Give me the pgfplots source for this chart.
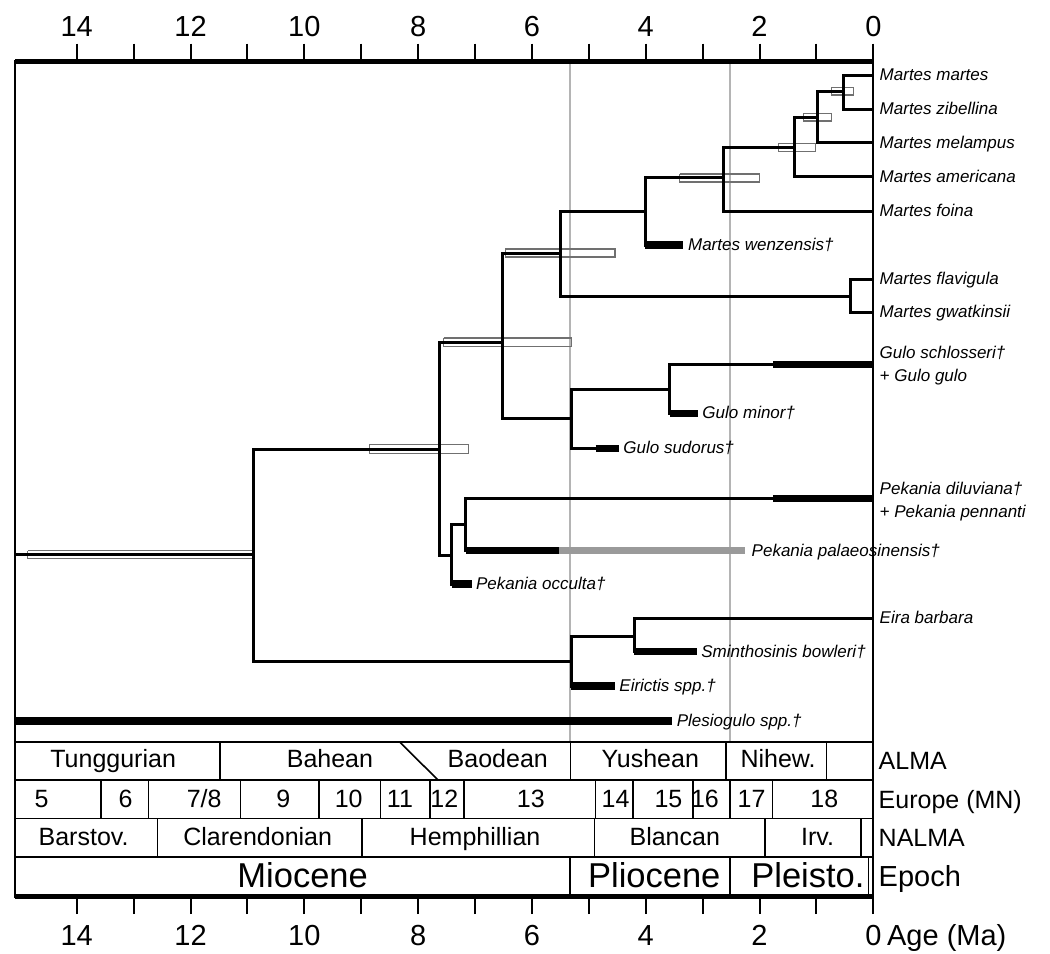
\documentclass[border=0pt]{standalone}
\usepackage{fontspec}
\setmainfont{Liberation Sans}
\usepackage{pgfplots}
\pgfplotsset{compat=1.18}
\definecolor{vgray}{HTML}{B4B4B4}
\definecolor{pgray}{HTML}{9A9A9A}
\definecolor{cigray}{HTML}{707070}

\begin{document}
\begin{tikzpicture}[
  tree/.style={black, line width=1.5pt, line join=miter, mark=none},
  ext/.style={black, line width=3.6pt, mark=none},
  ci/.style={draw=cigray, line width=0.55pt, mark=none},
  taxon/.style={font=\fontsize{8.5}{10}\selectfont\itshape, anchor=base west, inner sep=0pt},
  ts/.style={font=\fontsize{12.5}{15}\selectfont, anchor=base, inner sep=0pt},
  ep/.style={font=\fontsize{17.25}{20}\selectfont, anchor=base, inner sep=0pt},
  rowlab/.style={font=\fontsize{12.5}{15}\selectfont, anchor=base west, inner sep=0pt, xshift=2.5pt},
  tl/.style={font=\fontsize{14.5}{17}\selectfont, anchor=base, inner sep=0pt},
  tsl/.style={black, line width=0.8pt},
]
\begin{axis}[
  scale only axis, width=429pt, height=417.85pt,
  x dir=reverse, y dir=reverse,
  xmin=0, xmax=15.08, ymin=61, ymax=896.7,
  axis line style={black, line width=0.85pt},
  xtick={0,1,...,14}, xticklabels={,,,,,,,,,,,,,,,},
  ytick=\empty,
  tick align=outside, tick pos=both,
  major tick length=8.75pt,
  x tick style={black, line width=1pt},
  clip=false,
]
% geological boundaries
\addplot[vgray, line width=1.25pt] coordinates {(5.33,61) (5.33,741.7)};
\addplot[vgray, line width=1.25pt] coordinates {(2.52,61) (2.52,741.7)};

% CI boxes
\addplot[ci] coordinates {(0.73,87.3) (0.35,87.3) (0.35,95) (0.73,95) (0.73,87.3)};
\addplot[ci] coordinates {(1.23,113.3) (0.74,113.3) (0.74,121) (1.23,121) (1.23,113.3)};
\addplot[ci] coordinates {(1.66,143.3) (1.02,143.3) (1.02,151.3) (1.66,151.3) (1.66,143.3)};
\addplot[ci] coordinates {(3.40,174) (2.00,174) (2.00,182) (3.40,182) (3.40,174)};
\addplot[ci] coordinates {(6.47,249) (4.54,249) (4.54,257) (6.47,257) (6.47,249)};
\addplot[ci] coordinates {(7.55,338) (5.31,338) (5.31,346.3) (7.55,346.3) (7.55,338)};
\addplot[ci] coordinates {(8.86,444.5) (7.11,444.5) (7.11,453.3) (8.86,453.3) (8.86,444.5)};
\addplot[ci] coordinates {(14.86,550.7) (10.90,550.7) (10.90,558.7) (14.86,558.7) (14.86,550.7)};

% tree
\addplot[tree] coordinates {(15.08,554.7) (10.90,554.7)};
\addplot[tree] coordinates {(7.63,449) (10.90,449) (10.90,661) (5.31,661)};
\addplot[tree] coordinates {(6.51,342.3) (7.63,342.3) (7.63,555) (7.41,555)};
\addplot[tree] coordinates {(5.49,253) (6.51,253) (6.51,418.3) (5.31,418.3)};
\addplot[tree] coordinates {(4.01,211) (5.49,211) (5.49,296) (0.41,296)};
\addplot[tree] coordinates {(2.64,177.7) (4.01,177.7) (4.01,245) (3.35,245)};
\addplot[tree] coordinates {(1.39,147.3) (2.64,147.3) (2.64,211) (0,211)};
\addplot[tree] coordinates {(0.98,117.3) (1.39,117.3) (1.39,176.7) (0,176.7)};
\addplot[tree] coordinates {(0.53,91) (0.98,91) (0.98,142.7) (0,142.7)};
\addplot[tree] coordinates {(0,75) (0.53,75) (0.53,109.3) (0,109.3)};
\addplot[tree] coordinates {(0,279) (0.41,279) (0.41,312.3) (0,312.3)};
\addplot[tree] coordinates {(3.58,389) (5.31,389) (5.31,448.3) (4.47,448.3)};
\addplot[tree] coordinates {(0,364.3) (3.58,364.3) (3.58,413.3) (3.08,413.3)};
\addplot[tree] coordinates {(7.16,524.3) (7.41,524.3) (7.41,584) (7.06,584)};
\addplot[tree] coordinates {(0,498.3) (7.16,498.3) (7.16,550.7) (5.53,550.7)};
\addplot[tree] coordinates {(4.20,636) (5.31,636) (5.31,686) (4.54,686)};
\addplot[tree] coordinates {(0,618.3) (4.20,618.3) (4.20,651.7) (3.10,651.7)};

% fossil ranges
\addplot[ext] coordinates {(4.01,245) (3.35,245)};
\addplot[ext] coordinates {(1.76,364.3) (0,364.3)};
\addplot[ext] coordinates {(3.58,413.3) (3.08,413.3)};
\addplot[ext] coordinates {(4.88,448.3) (4.47,448.3)};
\addplot[ext] coordinates {(1.76,498.3) (0,498.3)};
\addplot[ext] coordinates {(7.16,550.7) (5.53,550.7)};
\addplot[ext, pgray] coordinates {(5.53,550.7) (2.25,550.7)};
\addplot[ext] coordinates {(7.41,584) (7.06,584)};
\addplot[ext] coordinates {(4.20,651.7) (3.10,651.7)};
\addplot[ext] coordinates {(5.31,686) (4.54,686)};
\addplot[ext] coordinates {(15.08,721) (3.53,721)};

% taxon labels
\node[taxon, xshift=3pt] at (axis cs:0,80.5) {Martes martes};
\node[taxon, xshift=3pt] at (axis cs:0,114.8) {Martes zibellina};
\node[taxon, xshift=3pt] at (axis cs:0,148.2) {Martes melampus};
\node[taxon, xshift=3pt] at (axis cs:0,182.2) {Martes americana};
\node[taxon, xshift=3pt] at (axis cs:0,216.5) {Martes foina};
\node[taxon, xshift=2.5pt] at (axis cs:3.35,250.5) {Martes wenzensis†};
\node[taxon, xshift=3pt] at (axis cs:0,284.5) {Martes flavigula};
\node[taxon, xshift=3pt] at (axis cs:0,317.8) {Martes gwatkinsii};
\node[taxon, xshift=3pt] at (axis cs:0,358.3) {Gulo schlosseri†};
\node[taxon, xshift=3pt] at (axis cs:0,381) {+ Gulo gulo};
\node[taxon, xshift=2pt] at (axis cs:3.08,418.8) {Gulo minor†};
\node[taxon, xshift=2pt] at (axis cs:4.47,453.8) {Gulo sudorus†};
\node[taxon, xshift=3pt] at (axis cs:0,494.5) {Pekania diluviana†};
\node[taxon, xshift=3pt] at (axis cs:0,517.2) {+ Pekania pennanti};
\node[taxon, xshift=3pt] at (axis cs:2.25,556.2) {Pekania palaeosinensis†};
\node[taxon, xshift=2pt] at (axis cs:7.06,589.5) {Pekania occulta†};
\node[taxon, xshift=3pt] at (axis cs:0,623.8) {Eira barbara};
\node[taxon, xshift=2pt] at (axis cs:3.10,657.2) {Sminthosinis bowleri†};
\node[taxon, xshift=2pt] at (axis cs:4.54,691.5) {Eirictis spp.†};
\node[taxon, xshift=2pt] at (axis cs:3.53,726.5) {Plesiogulo spp.†};

% time scale rows
\draw[tsl] (axis cs:15.08,741.7) -- (axis cs:0,741.7);
\draw[tsl] (axis cs:15.08,780) -- (axis cs:0,780);
\draw[tsl] (axis cs:15.08,818.3) -- (axis cs:0,818.3);
\draw[tsl] (axis cs:15.08,856.7) -- (axis cs:0,856.7);
\pgfplotsinvokeforeach{11.48,5.32,2.59,0.82}{\draw[tsl] (axis cs:#1,741.7) -- (axis cs:#1,780);}
\draw[tsl] (axis cs:8.33,741.7) -- (axis cs:7.65,780);
\pgfplotsinvokeforeach{13.57,12.74,11.12,9.74,8.66,7.79,7.19,4.88,4.22,3.17,2.52,1.77}{\draw[tsl] (axis cs:#1,780) -- (axis cs:#1,818.3);}
\pgfplotsinvokeforeach{12.58,8.99,4.90,1.90,0.22}{\draw[tsl] (axis cs:#1,818.3) -- (axis cs:#1,856.7);}
\pgfplotsinvokeforeach{5.33,2.52,0.088}{\draw[tsl] (axis cs:#1,856.7) -- (axis cs:#1,896.7);}

\node[ts] at (axis cs:13.36,767.7) {Tunggurian};
\node[ts] at (axis cs:9.55,767.7) {Bahean};
\node[ts] at (axis cs:6.60,767.7) {Baodean};
\node[ts] at (axis cs:3.92,767.7) {Yushean};
\node[ts] at (axis cs:1.675,767.7) {Nihew.};

\node[ts] at (axis cs:14.62,807.3) {5};
\node[ts] at (axis cs:13.14,807.3) {6};
\node[ts] at (axis cs:11.76,807.3) {7/8};
\node[ts] at (axis cs:10.37,807.3) {9};
\node[ts] at (axis cs:9.22,807.3) {10};
\node[ts] at (axis cs:8.32,807.3) {11};
\node[ts] at (axis cs:7.54,807.3) {12};
\node[ts] at (axis cs:6.02,807.3) {13};
\node[ts] at (axis cs:4.53,807.3) {14};
\node[ts] at (axis cs:3.60,807.3) {15};
\node[ts] at (axis cs:2.96,807.3) {16};
\node[ts] at (axis cs:2.14,807.3) {17};
\node[ts] at (axis cs:0.86,807.3) {18};

\node[ts] at (axis cs:13.88,845) {Barstov.};
\node[ts] at (axis cs:10.82,845) {Clarendonian};
\node[ts] at (axis cs:7.00,845) {Hemphillian};
\node[ts] at (axis cs:3.49,845) {Blancan};
\node[ts] at (axis cs:0.98,845) {Irv.};

\node[ep] at (axis cs:10.03,887.7) {Miocene};
\node[ep] at (axis cs:3.85,887.7) {Pliocene};
\node[ep] at (axis cs:1.15,887.7) {Pleisto.};

\node[rowlab] at (axis cs:0,769) {ALMA};
\node[rowlab] at (axis cs:0,808.3) {Europe (MN)};
\node[rowlab] at (axis cs:0,846.7) {NALMA};
\node[rowlab, font=\fontsize{14.5}{17}\selectfont] at (axis cs:0,886.7) {Epoch};

% thick top and bottom lines
\draw[black, line width=2.5pt] (axis cs:15.08,61) -- (axis cs:0,61);
\draw[black, line width=2.5pt] (axis cs:15.08,896.7) -- (axis cs:0,896.7);

% tick labels
\pgfplotsinvokeforeach{0,2,...,14}{\node[tl] at (axis cs:#1,36.7) {#1};}
\pgfplotsinvokeforeach{0,2,...,14}{\node[tl] at (axis cs:#1,945) {#1};}
\node[tl, anchor=base west, xshift=6.7pt] at (axis cs:0,945) {Age (Ma)};

\coordinate (P1) at (axis cs:15.349,0);
\coordinate (P2) at (axis cs:-3.105,953);
\end{axis}
\pgfresetboundingbox
\path[use as bounding box] (P1) rectangle (P2);
\end{tikzpicture}
\end{document}
